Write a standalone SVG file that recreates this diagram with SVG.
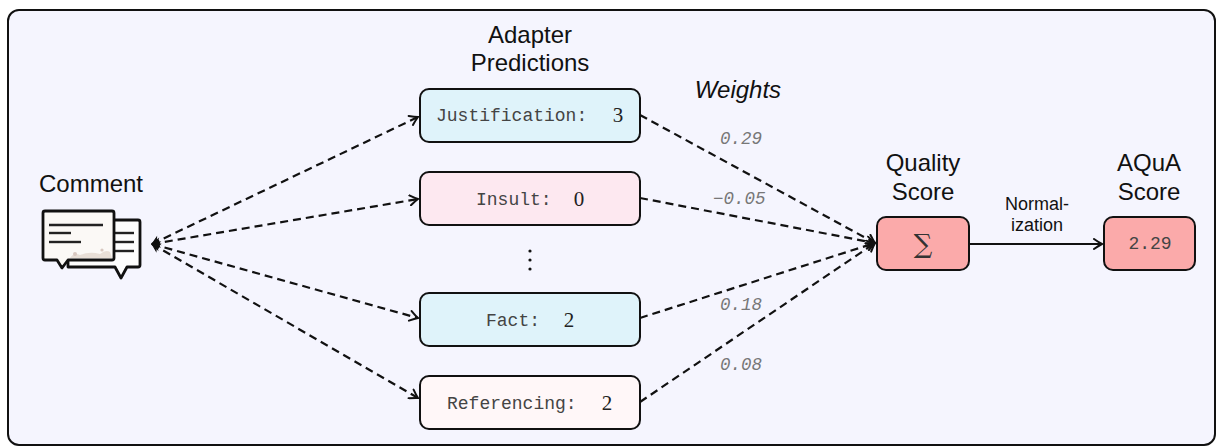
<svg xmlns="http://www.w3.org/2000/svg" width="1218" height="447" viewBox="0 0 1218 447">
<defs>
<style>
.lbl{font-family:"Liberation Sans",Arial,sans-serif;font-size:24px;fill:#111;text-anchor:middle}
.mono{font-family:"Liberation Mono","Courier New",monospace;font-size:18px;fill:#444}
.dig{font-family:"Liberation Serif","Times New Roman",serif;font-size:21px;fill:#222;text-anchor:middle}
.w{font-family:"Liberation Mono","Courier New",monospace;font-size:17.5px;font-style:italic;fill:#777}
.box{stroke:#111;stroke-width:2}
.dash{fill:none;stroke:#111;stroke-width:2.2;stroke-dasharray:8 5}
.solid{fill:none;stroke:#111;stroke-width:2.2}
</style>
<marker id="ah" viewBox="-10 -6 12 12" refX="0" refY="0" markerWidth="12" markerHeight="12" markerUnits="userSpaceOnUse" orient="auto-start-reverse">
<path d="M-8,-5 Q-3,-1.5 0,0 Q-3,1.5 -8,5" fill="none" stroke="#111" stroke-width="2" stroke-linecap="round"/>
</marker>
<marker id="ahs" viewBox="-10 -6 12 12" refX="0" refY="0" markerWidth="12" markerHeight="12" markerUnits="userSpaceOnUse" orient="auto-start-reverse">
<path d="M-7,-4 L0,0 L-7,4 L-5,0 Z" fill="#111" stroke="#111" stroke-width="1"/>
</marker>
</defs>
<rect x="0" y="0" width="1218" height="447" fill="#ffffff"/>
<rect x="8" y="10" width="1207" height="435" rx="11" fill="#f5f5fe" stroke="#111" stroke-width="2"/>

<g id="comment">
<text class="lbl" x="91" y="192">Comment</text>
<path d="M68,220 H138 Q140,220 140,222 V265 Q140,267 138,267 H127 L121,278 L115,267 H68 Z" fill="#fdfdfd" stroke="#111" stroke-width="2.8" stroke-linejoin="round"/>
<line x1="115" y1="233" x2="134" y2="233" stroke="#222" stroke-width="2.4"/>
<line x1="115" y1="242" x2="134" y2="242" stroke="#222" stroke-width="2.4"/>
<line x1="115" y1="251" x2="134" y2="251" stroke="#222" stroke-width="2.4"/>
<path d="M45,211 H112 Q114,211 114,213 V258 Q114,260 112,260 H68 L62,268 L57,260 H45 Q43,260 43,258 V213 Q43,211 45,211 Z" fill="#fbf9f6" stroke="#111" stroke-width="2.8" stroke-linejoin="round"/>
<path d="M70,258 Q74,252 80,255 Q90,251 100,254 Q106,249 110,252 L112,258 Z" fill="#e4d8d0" opacity="0.8"/>
<circle cx="75" cy="254" r="2" fill="#d8c8c0"/>
<circle cx="102" cy="250" r="1.6" fill="#d8c8c0"/>
<line x1="49" y1="225" x2="103" y2="225" stroke="#222" stroke-width="2.4"/>
<line x1="49" y1="233" x2="71" y2="233" stroke="#222" stroke-width="2.4"/>
<line x1="49" y1="242" x2="81" y2="242" stroke="#222" stroke-width="2.4"/>
</g>

<g id="adapter-title">
<text class="lbl" x="530" y="43">Adapter</text>
<text class="lbl" x="530" y="71">Predictions</text>
</g>
<g id="weights-title">
<text class="lbl" x="738" y="98" font-style="italic" font-size="22">Weights</text>
</g>

<g id="justification">
<rect class="box" x="420" y="89" width="220" height="53" rx="9" fill="#dff3fa"/>
<text class="mono" x="436" y="121">Justification:</text>
<text class="dig" x="618" y="122">3</text>
</g>
<g id="insult">
<rect class="box" x="420" y="172" width="220" height="53" rx="9" fill="#fde8f0"/>
<text class="mono" x="476" y="205">Insult:</text>
<text class="dig" x="579" y="206">0</text>
</g>
<g id="ellipsis">
<circle cx="530" cy="251" r="1.6" fill="#111"/>
<circle cx="530" cy="260" r="1.6" fill="#111"/>
<circle cx="530" cy="269" r="1.6" fill="#111"/>
</g>
<g id="fact">
<rect class="box" x="420" y="293" width="220" height="53" rx="9" fill="#dff3fa"/>
<text class="mono" x="486" y="326">Fact:</text>
<text class="dig" x="569" y="327">2</text>
</g>
<g id="referencing">
<rect class="box" x="420" y="376" width="220" height="53" rx="9" fill="#fff7f8"/>
<text class="mono" x="447" y="409">Referencing:</text>
<text class="dig" x="607" y="410">2</text>
</g>

<g id="quality">
<text class="lbl" x="923" y="171">Quality</text>
<text class="lbl" x="923" y="200">Score</text>
<rect class="box" x="877" y="217" width="92" height="53" rx="9" fill="#fbaaaa"/>
<text x="923" y="253" font-family="'DejaVu Serif','Liberation Serif',serif" font-size="26" fill="#333" text-anchor="middle">∑</text>
</g>
<g id="aqua">
<text class="lbl" x="1149" y="171">AQuA</text>
<text class="lbl" x="1149" y="200">Score</text>
<rect class="box" x="1104" y="217" width="91" height="53" rx="9" fill="#fbaaaa"/>
<text class="mono" x="1150" y="249" text-anchor="middle" fill="#444">2.29</text>
</g>

<g id="connectors">
<line class="dash" x1="152" y1="244" x2="418" y2="117" marker-start="url(#ahs)" marker-end="url(#ah)"/>
<line class="dash" x1="152" y1="244" x2="418" y2="199" marker-start="url(#ahs)" marker-end="url(#ah)"/>
<line class="dash" x1="152" y1="244" x2="418" y2="318" marker-start="url(#ahs)" marker-end="url(#ah)"/>
<line class="dash" x1="152" y1="244" x2="418" y2="398" marker-start="url(#ahs)" marker-end="url(#ah)"/>
<line class="dash" x1="640" y1="115" x2="875" y2="243" marker-end="url(#ah)"/>
<line class="dash" x1="640" y1="198" x2="875" y2="243" marker-end="url(#ah)"/>
<line class="dash" x1="640" y1="318" x2="875" y2="243" marker-end="url(#ah)"/>
<line class="dash" x1="640" y1="402" x2="875" y2="243" marker-end="url(#ah)"/>
<line class="solid" x1="969" y1="244" x2="1102" y2="244" marker-end="url(#ah)"/>
<text class="w" x="720" y="144">0.29</text>
<text class="w" x="713" y="204">−0.05</text>
<text class="w" x="720" y="310">0.18</text>
<text class="w" x="720" y="370">0.08</text>
<text x="1037" y="210" font-family="'Liberation Sans',Arial,sans-serif" font-size="18" fill="#111" text-anchor="middle">Normal-</text>
<text x="1037" y="231" font-family="'Liberation Sans',Arial,sans-serif" font-size="18" fill="#111" text-anchor="middle">ization</text>
</g>
</svg>
